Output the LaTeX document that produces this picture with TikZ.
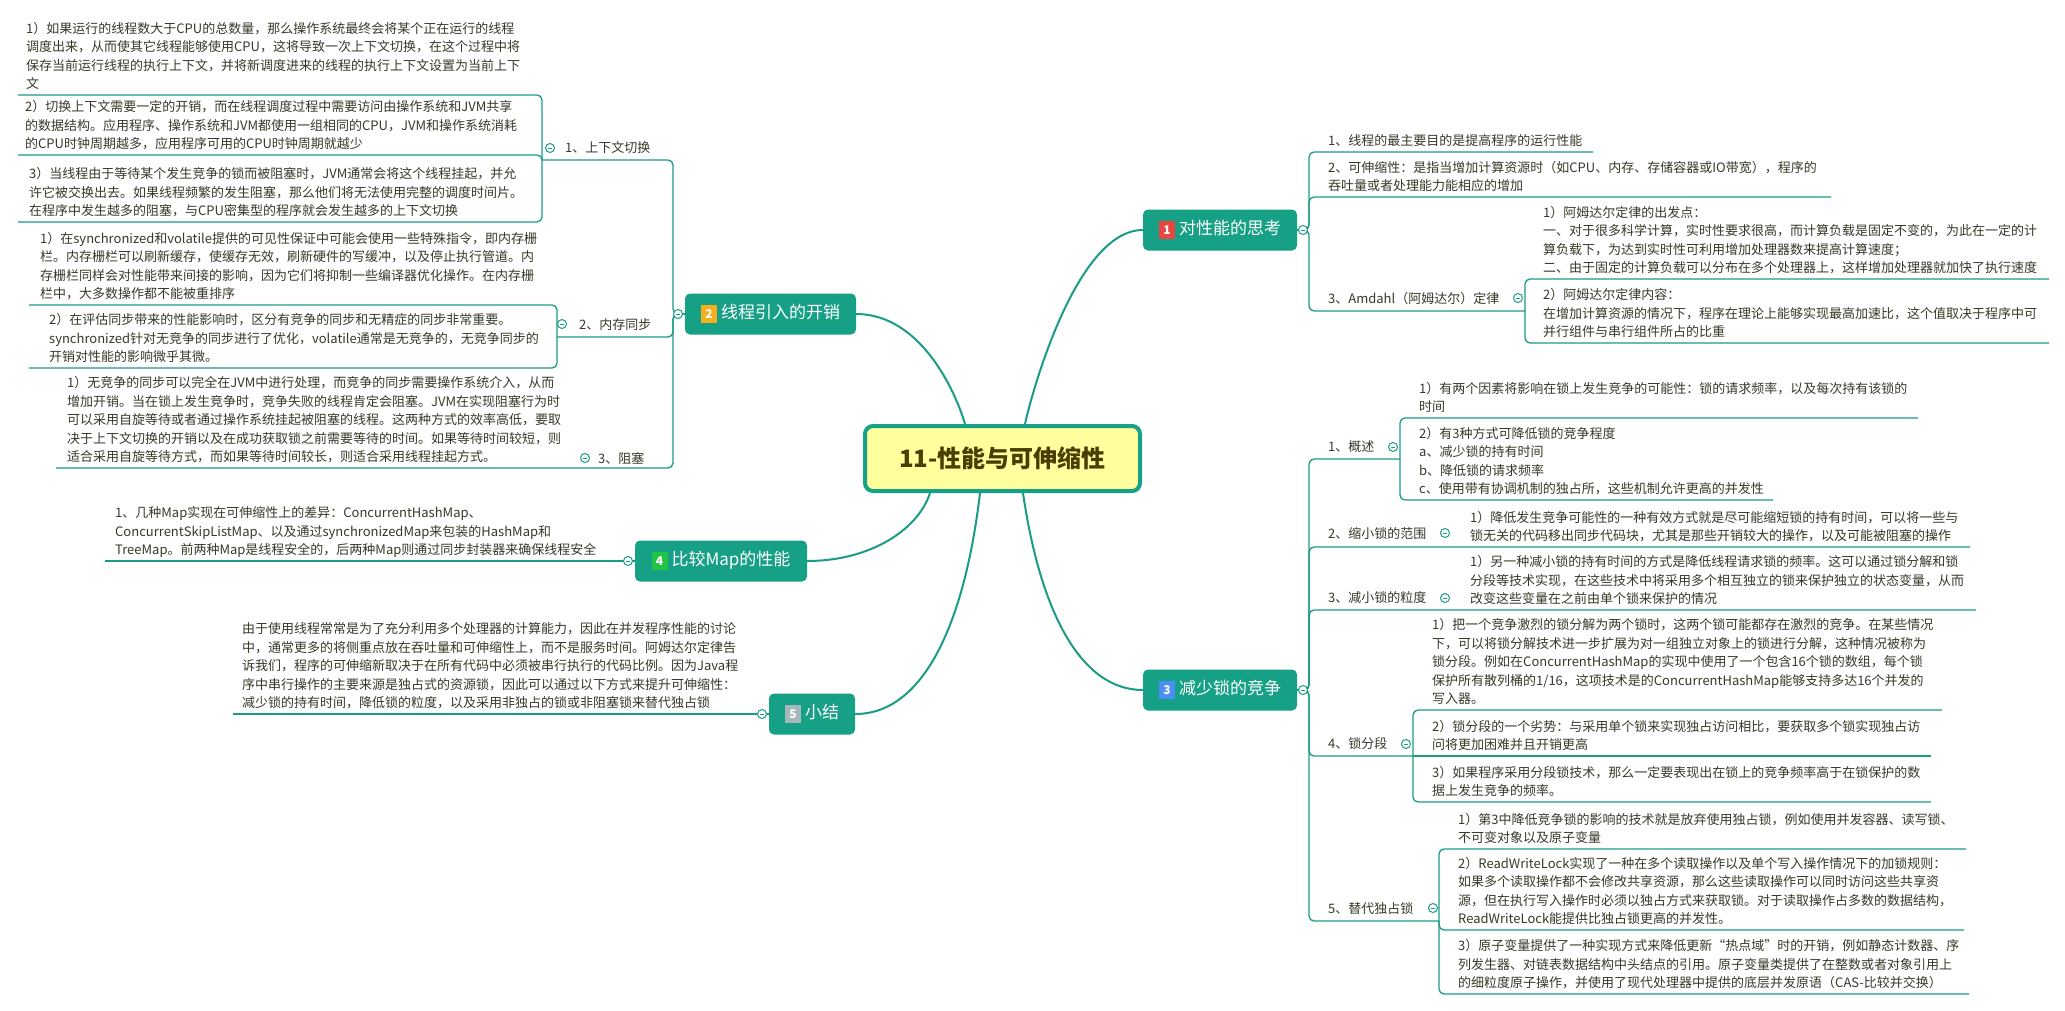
\documentclass[tikz,border=0pt]{standalone}
\usepackage{fontspec}
\setmainfont{Noto Sans CJK SC}
\usetikzlibrary{backgrounds}
\definecolor{tealc}{HTML}{16A085}
\definecolor{linec}{HTML}{1A9C86}
\definecolor{textc}{HTML}{38382A}
\definecolor{titlec}{HTML}{4A3D00}
\definecolor{centerfill}{HTML}{FFFF9E}
\definecolor{bOne}{HTML}{E8473F}
\definecolor{bTwo}{HTML}{F6AE1B}
\definecolor{bThree}{HTML}{4C8DF6}
\definecolor{bFour}{HTML}{22C445}
\definecolor{bFive}{HTML}{A6B8BB}
\newcommand\mybadge[2]{{\setlength{\fboxsep}{2.5pt}\colorbox{#1}{\rule[-2pt]{0pt}{13pt}\makebox[11pt]{\color{white}\fontsize{12}{12}\selectfont\bfseries #2}}}}
\newcommand\collapsebtn[2]{\node[collapse] (#1) at (#2) {};
  \draw[linec, line width=0.9pt] ([xshift=-2.3pt]#1.center) -- ([xshift=2.3pt]#1.center);}
\tikzset{
  tree/.style={draw=linec, line width=1.3pt, rounded corners=5pt},
  spoke/.style={draw=linec, line width=2pt},
  txt/.style={inner sep=0pt, anchor=north west, align=left, text=textc, font=\fontsize{13}{18.5}\selectfont},
  sublab/.style={inner sep=0pt, anchor=west, text=textc, font=\fontsize{13}{16}\selectfont},
  topic/.style={fill=tealc, rounded corners=5pt, minimum height=41pt, text=white, font=\fontsize{17}{20}\selectfont, inner sep=0pt},
  central/.style={fill=centerfill, draw=tealc, line width=4pt, rounded corners=8pt, minimum width=275pt, minimum height=65pt, text=titlec, font=\fontsize{24}{28}\selectfont\bfseries},
  collapse/.style={circle, draw=linec, fill=white, line width=1pt, minimum size=9pt, inner sep=0pt},
}
\begin{document}
\begin{tikzpicture}[x=1pt,y=-1pt]
\useasboundingbox (0,0) rectangle (2065,1010);

% central and main topics
\node[central] (c) at (1002.5,458.5) {11-性能与可伸缩性};
\node[topic, minimum width=154pt] (t1) at (1220,230) {\mybadge{bOne}{1}\hspace{4pt}对性能的思考};
\node[topic, minimum width=171pt] (t2) at (770.5,314) {\mybadge{bTwo}{2}\hspace{4pt}线程引入的开销};
\node[topic, minimum width=154pt] (t3) at (1220,690) {\mybadge{bThree}{3}\hspace{4pt}减少锁的竞争};
\node[topic, minimum width=172pt] (t4) at (721,561) {\mybadge{bFour}{4}\hspace{4pt}比较Map的性能};
\node[topic, minimum width=86pt] (t5) at (812,714) {\mybadge{bFive}{5}\hspace{4pt}小结};

% ---------- branch 2 ----------
\node[sublab] (s2a) at (565,148) {1、上下文切换};
\node[sublab] (s2b) at (579,325) {2、内存同步};
\node[sublab] (s2c) at (598,458) {3、阻塞};
\node[txt] (b2a1) at (26,22) {1）如果运行的线程数大于CPU的总数量，那么操作系统最终会将某个正在运行的线程\\调度出来，从而使其它线程能够使用CPU，这将导致一次上下文切换，在这个过程中将\\保存当前运行线程的执行上下文，并将新调度进来的线程的执行上下文设置为当前上下\\文};
\node[txt] (b2a2) at (25,100.5) {2）切换上下文需要一定的开销，而在线程调度过程中需要访问由操作系统和JVM共享\\的数据结构。应用程序、操作系统和JVM都使用一组相同的CPU，JVM和操作系统消耗\\的CPU时钟周期越多，应用程序可用的CPU时钟周期就越少};
\node[txt] (b2a3) at (29,167.5) {3）当线程由于等待某个发生竞争的锁而被阻塞时，JVM通常会将这个线程挂起，并允\\许它被交换出去。如果线程频繁的发生阻塞，那么他们将无法使用完整的调度时间片。\\在程序中发生越多的阻塞，与CPU密集型的程序就会发生越多的上下文切换};
\node[txt] (b2b1) at (40,232) {1）在synchronized和volatile提供的可见性保证中可能会使用一些特殊指令，即内存栅\\栏。内存栅栏可以刷新缓存，使缓存无效，刷新硬件的写缓冲，以及停止执行管道。内\\存栅栏同样会对性能带来间接的影响，因为它们将抑制一些编译器优化操作。在内存栅\\栏中，大多数操作都不能被重排序};
\node[txt] (b2b2) at (49,313.5) {2）在评估同步带来的性能影响时，区分有竞争的同步和无精症的同步非常重要。\\synchronized针对无竞争的同步进行了优化，volatile通常是无竞争的，无竞争同步的\\开销对性能的影响微乎其微。};
\node[txt] (b2c1) at (67,376.5) {1）无竞争的同步可以完全在JVM中进行处理，而竞争的同步需要操作系统介入，从而\\增加开销。当在锁上发生竞争时，竞争失败的线程肯定会阻塞。JVM在实现阻塞行为时\\可以采用自旋等待或者通过操作系统挂起被阻塞的线程。这两种方式的效率高低，要取\\决于上下文切换的开销以及在成功获取锁之前需要等待的时间。如果等待时间较短，则\\适合采用自旋等待方式，而如果等待时间较长，则适合采用线程挂起方式。};

% ---------- branch 4, 5 ----------
\node[txt] (b4a1) at (115,506.5) {1、几种Map实现在可伸缩性上的差异：ConcurrentHashMap、\\ConcurrentSkipListMap、以及通过synchronizedMap来包装的HashMap和\\TreeMap。前两种Map是线程安全的，后两种Map则通过同步封装器来确保线程安全};
\node[txt] (b5a1) at (242,622.5) {由于使用线程常常是为了充分利用多个处理器的计算能力，因此在并发程序性能的讨论\\中，通常更多的将侧重点放在吞吐量和可伸缩性上，而不是服务时间。阿姆达尔定律告\\诉我们，程序的可伸缩新取决于在所有代码中必须被串行执行的代码比例。因为Java程\\序中串行操作的主要来源是独占式的资源锁，因此可以通过以下方式来提升可伸缩性：\\减少锁的持有时间，降低锁的粒度，以及采用非独占的锁或非阻塞锁来替代独占锁};

% ---------- branch 1 ----------
\node[txt] (s1a) at (1328,134.5) {1、线程的最主要目的是提高程序的运行性能};
\node[txt] (s1b) at (1328,161) {2、可伸缩性：是指当增加计算资源时（如CPU、内存、存储容器或IO带宽），程序的\\吞吐量或者处理能力能相应的增加};
\node[sublab] (s1c) at (1328,299) {3、Amdahl（阿姆达尔）定律};
\node[txt] (b1c1) at (1543,206) {1）阿姆达尔定律的出发点：\\一、对于很多科学计算，实时性要求很高，而计算负载是固定不变的，为此在一定的计\\算负载下，为达到实时性可利用增加处理器数来提高计算速度；\\二、由于固定的计算负载可以分布在多个处理器上，这样增加处理器就加快了执行速度};
\node[txt] (b1c2) at (1543,288.5) {2）阿姆达尔定律内容：\\在增加计算资源的情况下，程序在理论上能够实现最高加速比，这个值取决于程序中可\\并行组件与串行组件所占的比重};

% ---------- branch 3 ----------
\node[sublab] (s3a) at (1328,447) {1、概述};
\node[sublab] (s3b) at (1328,534) {2、缩小锁的范围};
\node[sublab] (s3c) at (1328,598) {3、减小锁的粒度};
\node[sublab] (s3d) at (1328,744) {4、锁分段};
\node[sublab] (s3e) at (1328,909) {5、替代独占锁};
\node[txt] (b3a1) at (1419,382) {1）有两个因素将影响在锁上发生竞争的可能性：锁的请求频率，以及每次持有该锁的\\时间};
\node[txt] (b3a2) at (1419,427) {2）有3种方式可降低锁的竞争程度\\a、减少锁的持有时间\\b、降低锁的请求频率\\c、使用带有协调机制的独占所，这些机制允许更高的并发性};
\node[txt] (b3b1) at (1470,511) {1）降低发生竞争可能性的一种有效方式就是尽可能缩短锁的持有时间，可以将一些与\\锁无关的代码移出同步代码块，尤其是那些开销较大的操作，以及可能被阻塞的操作};
\node[txt] (b3c1) at (1470,555.5) {1）另一种减小锁的持有时间的方式是降低线程请求锁的频率。这可以通过锁分解和锁\\分段等技术实现，在这些技术中将采用多个相互独立的锁来保护独立的状态变量，从而\\改变这些变量在之前由单个锁来保护的情况};
\node[txt] (b3d1) at (1432,618.5) {1）把一个竞争激烈的锁分解为两个锁时，这两个锁可能都存在激烈的竞争。在某些情况\\下，可以将锁分解技术进一步扩展为对一组独立对象上的锁进行分解，这种情况被称为\\锁分段。例如在ConcurrentHashMap的实现中使用了一个包含16个锁的数组，每个锁\\保护所有散列桶的1/16，这项技术是的ConcurrentHashMap能够支持多达16个并发的\\写入器。};
\node[txt] (b3d2) at (1432,720) {2）锁分段的一个劣势：与采用单个锁来实现独占访问相比，要获取多个锁实现独占访\\问将更加困难并且开销更高};
\node[txt] (b3d3) at (1432,766) {3）如果程序采用分段锁技术，那么一定要表现出在锁上的竞争频率高于在锁保护的数\\据上发生竞争的频率。};
\node[txt] (b3e1) at (1458,813) {1）第3中降低竞争锁的影响的技术就是放弃使用独占锁，例如使用并发容器、读写锁、\\不可变对象以及原子变量};
\node[txt] (b3e2) at (1458,857) {2）ReadWriteLock实现了一种在多个读取操作以及单个写入操作情况下的加锁规则：\\如果多个读取操作都不会修改共享资源，那么这些读取操作可以同时访问这些共享资\\源，但在执行写入操作时必须以独占方式来获取锁。对于读取操作占多数的数据结构，\\ReadWriteLock能提供比独占锁更高的并发性。};
\node[txt] (b3e3) at (1458,939.5) {3）原子变量提供了一种实现方式来降低更新“热点域”时的开销，例如静态计数器、序\\列发生器、对链表数据结构中头结点的引用。原子变量类提供了在整数或者对象引用上\\的细粒度原子操作，并使用了现代处理器中提供的底层并发原语（CAS-比较并交换）};

% ---------- junction / underline coordinates ----------
\coordinate (j2) at (673,314);
\coordinate (j2a) at (542,160);
\coordinate (j2b) at (557,337);
\coordinate (u2c) at (56,468);
\coordinate (u2a1) at (18,95);
\coordinate (u2a2) at (18,155);
\coordinate (u2a3) at (18,222);
\coordinate (u2b1) at (29,305);
\coordinate (u2b2) at (29,368);
\coordinate (u4a1) at (105,561);
\coordinate (u5a1) at (233,714);
\coordinate (j1) at (1309,230);
\coordinate (u1a) at (1593,152);
\coordinate (u1b) at (1831,197);
\coordinate (j1c) at (1525,311);
\coordinate (u1c1) at (2049,279);
\coordinate (u1c2) at (2049,343);
\coordinate (j3) at (1309,690);
\coordinate (j3a) at (1400,459);
\coordinate (u3a1) at (1918,418);
\coordinate (u3a2) at (1773,500);
\coordinate (u3b1) at (1970,547);
\coordinate (u3c1) at (1976,610);
\coordinate (j3d) at (1413,756);
\coordinate (u3d1) at (1942,710);
\coordinate (u3d2) at (1931,756);
\coordinate (u3d3) at (1931,802);
\coordinate (j3e) at (1439,921);
\coordinate (u3e1) at (1966,849);
\coordinate (u3e2) at (1964,930);
\coordinate (u3e3) at (1969,994);

\begin{pgfonlayer}{background}
\fill[white] (0,0) rectangle (2065,1010);
% spokes from the central topic
\draw[spoke] ([xshift=-37.5pt]c.north) .. controls (955,390) and (920,314) .. (t2.east);
\draw[spoke] ([xshift=22.5pt]c.north) .. controls (1030,400) and (1075,230) .. (t1.west);
\draw[spoke] ([xshift=-72.5pt]c.south) .. controls (918,530) and (870,561) .. (t4.east);
\draw[spoke] ([xshift=-22.5pt]c.south) .. controls (965,620) and (925,714) .. (t5.east);
\draw[spoke] ([xshift=20.5pt]c.south) .. controls (1040,610) and (1080,690) .. (t3.west);
% branch 2
\draw[tree] (t2.west) -- (j2) |- (j2a);
\draw[tree] (t2.west) -- (j2) |- (j2b);
\draw[tree] (t2.west) -- (j2) |- (u2c);
\draw[tree] (j2a) |- (u2a1);
\draw[tree] (j2a) |- (u2a2);
\draw[tree] (j2a) |- (u2a3);
\draw[tree] (j2b) |- (u2b1);
\draw[tree] (j2b) |- (u2b2);
% branch 4, 5
\draw[tree] (t4.west) -- (u4a1);
\draw[tree] (t5.west) -- (u5a1);
% branch 1
\draw[tree] (t1.east) -- (j1) |- (u1a);
\draw[tree] (t1.east) -- (j1) |- (u1b);
\draw[tree] (t1.east) -- (j1) |- (j1c);
\draw[tree] (j1c) |- (u1c1);
\draw[tree] (j1c) |- (u1c2);
% branch 3
\draw[tree] (t3.east) -- (j3) |- (j3a);
\draw[tree] (j3a) |- (u3a1);
\draw[tree] (j3a) |- (u3a2);
\draw[tree] (t3.east) -- (j3) |- (u3b1);
\draw[tree] (t3.east) -- (j3) |- (u3c1);
\draw[tree] (t3.east) -- (j3) |- (j3d);
\draw[tree] (j3d) |- (u3d1);
\draw[tree] (j3d) -- (u3d2);
\draw[tree] (j3d) |- (u3d3);
\draw[tree] (t3.east) -- (j3) |- (j3e);
\draw[tree] (j3e) |- (u3e1);
\draw[tree] (j3e) |- (u3e2);
\draw[tree] (j3e) |- (u3e3);
\end{pgfonlayer}

% collapse buttons
\collapsebtn{k2}{678,314}
\collapsebtn{k2a}{550,148}
\collapsebtn{k2b}{562,324}
\collapsebtn{k2c}{585,458}
\collapsebtn{k4}{628,561}
\collapsebtn{k5}{762,714}
\collapsebtn{k1}{1303,230}
\collapsebtn{k1c}{1518,298}
\collapsebtn{k3}{1303,690}
\collapsebtn{k3a}{1393,447}
\collapsebtn{k3b}{1445,533}
\collapsebtn{k3c}{1445,598}
\collapsebtn{k3d}{1406,744}
\collapsebtn{k3e}{1433,908}
\end{tikzpicture}
\end{document}
